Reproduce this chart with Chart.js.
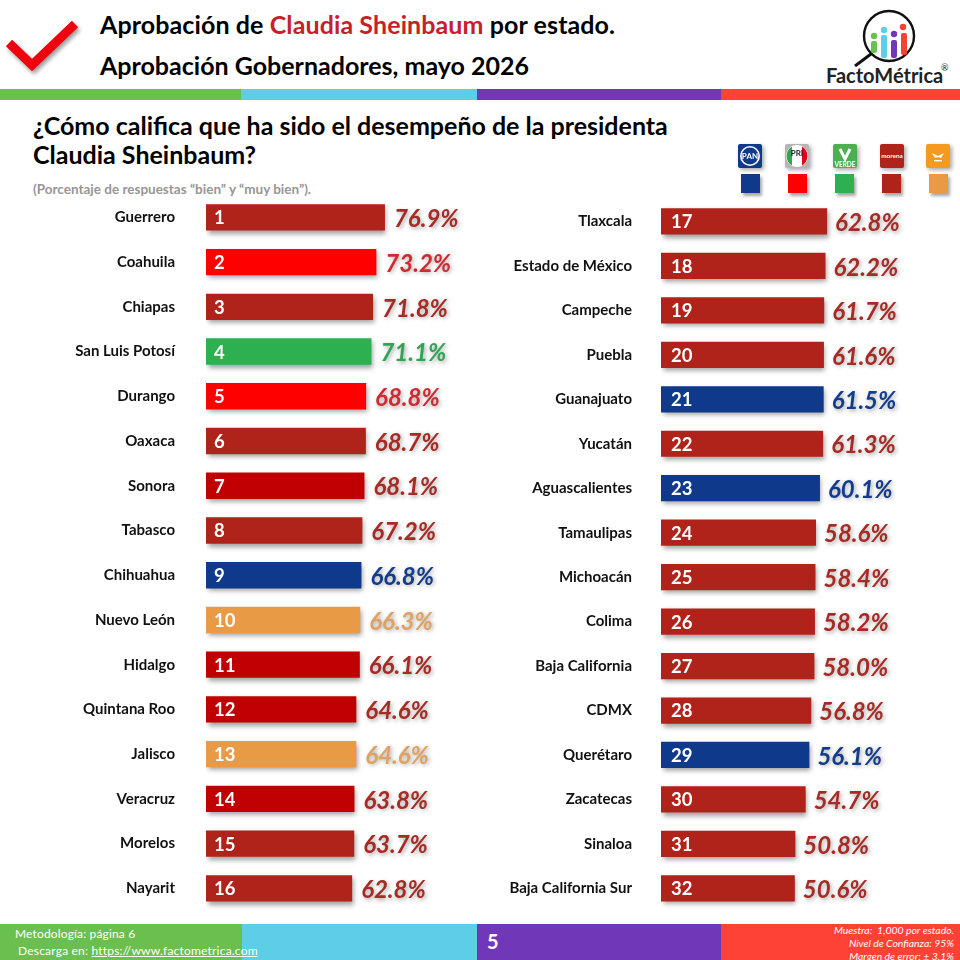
<!DOCTYPE html>
<html lang="es"><head><meta charset="utf-8">
<script src="https://cdn.jsdelivr.net/npm/chart.js@4"></script>
<style>
html,body{margin:0;padding:0;background:#fff}
#page{position:relative;width:960px;height:960px;overflow:hidden;font-family:Lato,sans-serif;color:#000}
#page canvas{position:absolute;left:0;top:0}
.t{position:absolute;white-space:nowrap;line-height:1}
.b{position:absolute}
.sw{position:absolute;top:174px;width:19px;height:19px;box-shadow:2px 3px 3px rgba(0,0,0,.35)}
.lg{position:absolute;top:144px;width:24px;height:24px;filter:drop-shadow(2px 2px 2px rgba(0,0,0,.35))}
</style></head><body>
<div id="page">
<svg class="b" style="left:0;top:10px;filter:drop-shadow(2px 3px 2px rgba(0,0,0,.4))" width="90" height="70"><polyline points="9,33 32,55 75,14" fill="none" stroke="#F0000F" stroke-width="9"/></svg>
<div class="t" style="left:100px;top:12px;font-size:25px;font-weight:700;letter-spacing:.1px">Aprobación de <span style="color:#C8202A">Claudia Sheinbaum</span> por estado.</div>
<div class="t" style="left:100px;top:53px;font-size:25px;font-weight:700">Aprobación Gobernadores, mayo 2026</div>
<svg class="b" style="left:850px;top:7px" width="76" height="60" viewBox="0 0 76 60">
<circle cx="39" cy="29" r="25" fill="#fff" stroke="#111" stroke-width="2.4"/><line x1="21" y1="47" x2="5" y2="59" stroke="#111" stroke-width="3"/>
<rect x="21" y="34" width="6" height="12" rx="2" fill="#6BBF4E"/><circle cx="24" cy="29" r="3.2" fill="#6BBF4E"/>
<rect x="31" y="28" width="6" height="23" rx="2" fill="#5CCFE6"/><circle cx="34" cy="23" r="3.2" fill="#5CCFE6"/>
<rect x="41" y="33" width="6" height="18" rx="2" fill="#7038B8"/><circle cx="44" cy="27" r="3.2" fill="#7038B8"/>
<rect x="51" y="26" width="6" height="22" rx="2" fill="#F44336"/><circle cx="53" cy="20" r="3.2" fill="#F44336"/>
</svg>
<div class="t" style="left:826px;top:65px;font-size:20px;font-weight:700;color:#222">FactoMétrica</div>
<div class="t" style="left:941px;top:63px;font-size:9px;color:#222">®</div>
<div class="b" style="left:0;top:89px;width:241px;height:11px;background:#6BBF4E"></div>
<div class="b" style="left:241px;top:89px;width:236px;height:11px;background:#5CCFE6"></div>
<div class="b" style="left:477px;top:89px;width:244px;height:11px;background:#7038B8"></div>
<div class="b" style="left:721px;top:89px;width:239px;height:11px;background:#FF4136"></div>
<div class="t" style="left:33px;top:113px;font-size:25px;font-weight:700">¿Cómo califica que ha sido el desempeño de la presidenta</div>
<div class="t" style="left:33px;top:142px;font-size:25px;font-weight:700">Claudia Sheinbaum?</div>
<div class="t" style="left:33px;top:183px;font-size:13.5px;font-weight:700;color:#969696">(Porcentaje de respuestas “bien” y “muy bien”).</div>

<svg class="lg" style="left:738px" viewBox="0 0 24 24"><rect width="24" height="24" rx="2" fill="#0F3A8C"/><circle cx="12" cy="12" r="10" fill="#fff"/><circle cx="12" cy="12" r="8.4" fill="#0F3A8C"/><text x="12" y="15" font-size="8" font-weight="700" fill="#fff" text-anchor="middle">PAN</text></svg>
<svg class="lg" style="left:785px" viewBox="0 0 24 24"><rect width="24" height="24" rx="2" fill="#b5b5b5"/><circle cx="12" cy="12" r="11" fill="#fff"/><path d="M7,2.5A11,11 0 0 0 7,21.5Z" fill="#2DA84F"/><path d="M17,2.5A11,11 0 0 1 17,21.5Z" fill="#E2001A"/><text x="12" y="12" font-size="8" font-weight="700" fill="#222" text-anchor="middle">PRI</text></svg>
<svg class="lg" style="left:833px" viewBox="0 0 24 24"><rect width="24" height="24" rx="2" fill="#4CB050"/><path d="M7,5L12,15L17,5" stroke="#fff" stroke-width="3" fill="none"/><text x="12" y="22.5" font-size="6.5" font-weight="700" fill="#fff" text-anchor="middle">VERDE</text></svg>
<svg class="lg" style="left:880px" viewBox="0 0 24 24"><rect width="24" height="24" rx="2" fill="#B0231A"/><text x="12" y="13.5" font-size="6.4" font-weight="700" fill="#fff" text-anchor="middle">morena</text></svg>
<svg class="lg" style="left:926px" viewBox="0 0 24 24"><rect width="24" height="24" rx="2" fill="#F59A1E"/><path d="M6,9L12,12L18,9L15,14L12,13L9,14Z" fill="#fff"/><rect x="8" y="16" width="8" height="1.4" fill="#fff"/></svg>
<div class="sw" style="left:741px;background:#0F3A8C"></div>
<div class="sw" style="left:788px;background:#FF0000"></div>
<div class="sw" style="left:835px;background:#2DB04F"></div>
<div class="sw" style="left:882px;background:#B0231A"></div>
<div class="sw" style="left:929px;background:#E99A45"></div>

<canvas id="izq" width="960" height="960"></canvas>
<canvas id="der" width="960" height="960"></canvas>

<div class="b" style="left:0;top:924px;width:242px;height:36px;background:#6BBF4E"></div>
<div class="b" style="left:242px;top:924px;width:235px;height:36px;background:#5CCFE6"></div>
<div class="b" style="left:477px;top:924px;width:244px;height:36px;background:#7038B8"></div>
<div class="b" style="left:721px;top:924px;width:239px;height:36px;background:#FF4136"></div>
<div class="t" style="left:15px;top:928px;font-size:12px;color:#fff;letter-spacing:.15px">Metodología: página 6</div>
<div class="t" style="left:18px;top:945px;font-size:12px;color:#fff;letter-spacing:.2px">Descarga en: <u>https://www.factometrica.com</u></div>
<div class="t" style="left:487px;top:931px;font-size:20px;font-weight:700;color:#fff">5</div>
<div class="t" style="right:6px;top:925px;font-size:10.4px;font-style:italic;color:#fff">Muestra:&nbsp; 1,000 por estado.</div>
<div class="t" style="right:6px;top:938px;font-size:10.4px;font-style:italic;color:#fff">Nivel de Confianza: 95%</div>
<div class="t" style="right:6px;top:951px;font-size:10.4px;font-style:italic;color:#fff">Margen de error: ± 3.1%</div>
</div>
<script>
const estadosIzq = ["Guerrero","Coahuila","Chiapas","San Luis Potosí","Durango","Oaxaca","Sonora","Tabasco","Chihuahua","Nuevo León","Hidalgo","Quintana Roo","Jalisco","Veracruz","Morelos","Nayarit"];
const valoresIzq = [76.9,73.2,71.8,71.1,68.8,68.7,68.1,67.2,66.8,66.3,66.1,64.6,64.6,63.8,63.7,62.8];
const rangosIzq = [1,2,3,4,5,6,7,8,9,10,11,12,13,14,15,16];
const partidosIzq = ["morena","pri","morena","verde","pri","morena","guinda","morena","pan","mc","guinda","guinda","mc","guinda","morena","morena"];
const estadosDer = ["Tlaxcala","Estado de México","Campeche","Puebla","Guanajuato","Yucatán","Aguascalientes","Tamaulipas","Michoacán","Colima","Baja California","CDMX","Querétaro","Zacatecas","Sinaloa","Baja California Sur"];
const valoresDer = [62.8,62.2,61.7,61.6,61.5,61.3,60.1,58.6,58.4,58.2,58.0,56.8,56.1,54.7,50.8,50.6];
const rangosDer = [17,18,19,20,21,22,23,24,25,26,27,28,29,30,31,32];
const partidosDer = ["morena","morena","morena","morena","pan","morena","pan","morena","morena","morena","morena","morena","pan","morena","morena","morena"];
const colorBarra = {morena:"#B0231A",guinda:"#C00000",pri:"#FF0000",verde:"#2DB04F",pan:"#0F3A8C",mc:"#E99A45"};
const colorValor = {morena:"#A62B24",guinda:"#A62B24",pri:"#D02A30",verde:"#2FA552",pan:"#143C8C",mc:"#E0A262"};

function panel(id, estados, valores, rangos, partidos, cfg){
  const marcas = {
    id:"marcas",
    beforeDatasetsDraw(c){const x=c.ctx;x.save();x.shadowColor="rgba(0,0,0,.38)";x.shadowBlur=5;x.shadowOffsetX=1.5;x.shadowOffsetY=3;},
    afterDatasetsDraw(c){
      const x=c.ctx;x.restore();x.save();
      c.getDatasetMeta(0).data.forEach((b,i)=>{
        x.textBaseline="middle";x.textAlign="left";
        x.font="700 18.5px Lato";x.fillStyle="#fff";
        x.shadowColor="transparent";
        x.fillText(rangos[i],b.base+cfg.rango,b.y+1);
        x.font="italic 700 24px Lato";x.fillStyle=colorValor[partidos[i]];
        x.shadowColor="rgba(0,0,0,.35)";x.shadowBlur=4;x.shadowOffsetX=1.5;x.shadowOffsetY=1.5;
        x.fillText(valores[i].toFixed(1)+"%",b.x+cfg.gap,b.y+2);
      });
      x.restore();
    }
  };
  new Chart(document.getElementById(id),{
    type:"bar",
    data:{labels:estados,datasets:[{data:valores,backgroundColor:partidos.map(p=>colorBarra[p]),barPercentage:cfg.barra,categoryPercentage:1,borderWidth:0}]},
    plugins:[marcas],
    options:{
      indexAxis:"y",responsive:false,animation:false,
      layout:{padding:{left:0,top:cfg.top,bottom:cfg.bottom,right:cfg.right}},
      plugins:{legend:{display:false},tooltip:{enabled:false}},
      scales:{
        x:{display:false,min:0,max:100},
        y:{
          afterFit(s){s.width=cfg.eje;},
          grid:{display:false,drawTicks:false},border:{display:false},
          ticks:{padding:cfg.pad,color:"#111",font:{family:"Lato",weight:"700",size:15},autoSkip:false}
        }
      }
    }
  });
}
panel("izq",estadosIzq,valoresIzq,rangosIzq,partidosIzq,{top:195,bottom:49.3,right:521.3,eje:206,pad:31,barra:.59,gap:9,rango:8});
panel("der",estadosDer,valoresDer,rangosDer,partidosDer,{top:199.2,bottom:49.4,right:34.5,eje:661,pad:29,barra:.59,gap:8,rango:10});
</script>
</body></html>
